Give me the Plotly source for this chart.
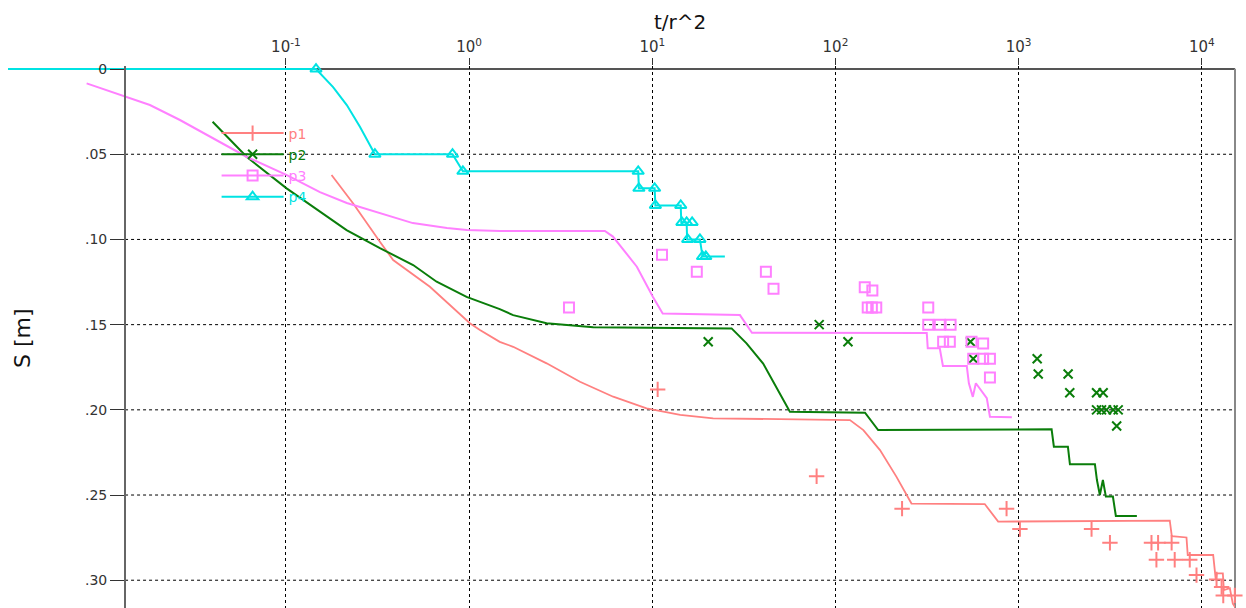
import plotly.graph_objects as go

# ---- data (t/r^2 vs drawdown s [m]) ----
# p1 model curve + observations
p1_t = [0.1775, 0.233, 0.326, 0.385, 0.611, 1.01, 1.146, 1.47, 1.74, 2.65, 4.03, 6.12, 9.31,
        14.2, 21.5, 120, 142, 175, 215, 260, 653, 773, 6683, 6855, 8245, 8375, 11530, 11920,
        12070, 13020, 13190, 14220, 14760, 16110]
p1_s = [0.0622, 0.0789, 0.1013, 0.1121, 0.1278, 0.1492, 0.1532, 0.1601, 0.1630, 0.1727, 0.1835,
        0.1923, 0.1991, 0.2030, 0.2050, 0.2060, 0.2119, 0.2236, 0.2392, 0.2550, 0.2553, 0.2656,
        0.2650, 0.2741, 0.2749, 0.2852, 0.2852, 0.2999, 0.2960, 0.2960, 0.3058, 0.3047, 0.3137,
        0.3200]
p1_obs_t = [10.7, 78.9, 231, 859, 1016, 2500, 3150, 5310, 5770, 6840, 5650, 7110, 8590, 9350,
            12030, 12820, 13090, 15140]
p1_obs_s = [0.188, 0.239, 0.258, 0.258, 0.270, 0.270, 0.278, 0.278, 0.278, 0.278, 0.288, 0.288,
            0.288, 0.297, 0.2995, 0.304, 0.309, 0.309]

# p2
p2_t = [0.0398, 0.061, 0.1009, 0.141, 0.2144, 0.326, 0.495, 0.665, 0.969, 1.47, 1.74, 2.65, 4.03,
        4.76, 27.1, 32.7, 40.3, 49.7, 56.4, 145, 171, 1513, 1557, 1857, 1905, 2608, 2675, 2775,
        2883, 2993, 3270, 3393, 4419]
p2_s = [0.0309, 0.0515, 0.0700, 0.0808, 0.0945, 0.1051, 0.1150, 0.1248, 0.1337, 0.1409, 0.1444,
        0.1492, 0.1508, 0.1516, 0.1522, 0.1610, 0.1728, 0.1904, 0.2011, 0.2017, 0.2119, 0.2114,
        0.2216, 0.2216, 0.2320, 0.2320, 0.2412, 0.2500, 0.2412, 0.2509, 0.2509, 0.2623, 0.2623]
p2_obs_t = [20.2, 81.5, 117, 546, 565, 1262, 1279, 1862, 1901, 2662, 2893, 2662, 2833, 3016,
            3281, 3494, 3428]
p2_obs_s = [0.160, 0.150, 0.160, 0.160, 0.170, 0.170, 0.179, 0.179, 0.190, 0.190, 0.190, 0.200,
            0.200, 0.200, 0.200, 0.200, 0.2095]

# p3
p3_t = [0.00817, 0.0132, 0.0181, 0.0264, 0.040, 0.0613, 0.1012, 0.1534, 0.215, 0.326, 0.493,
        0.757, 0.973, 1.47, 5.51, 6.10, 8.24, 10.07, 11.4, 30.1, 35.0, 315, 319, 371, 386, 521,
        535, 562, 584, 670, 697, 918]
p3_s = [0.0084, 0.0158, 0.0211, 0.0299, 0.0405, 0.0516, 0.0622, 0.0722, 0.0786, 0.0845, 0.0904,
        0.0933, 0.0945, 0.0950, 0.0950, 0.0983, 0.1160, 0.1336, 0.1434, 0.1444, 0.1548, 0.1549,
        0.1639, 0.1639, 0.1743, 0.1743, 0.1844, 0.1924, 0.1844, 0.1931, 0.2040, 0.2044]
p3_obs_t = [3.51, 11.3, 17.5, 41.7, 45.9, 144.5, 159, 150, 158, 167, 321, 321, 371, 425, 387, 421,
            553, 640, 565, 640, 697, 697]
p3_obs_s = [0.140, 0.109, 0.119, 0.119, 0.129, 0.128, 0.130, 0.140, 0.140, 0.140, 0.140, 0.150,
            0.150, 0.150, 0.160, 0.160, 0.160, 0.161, 0.170, 0.170, 0.170, 0.181]

# p4
p4_t = [0.00304, 0.146, 0.181, 0.215, 0.254, 0.306, 0.812, 0.925, 8.38, 8.45, 10.3, 10.4, 14.3,
        14.4, 15.4, 15.5, 18.2, 18.8, 24.9]
p4_s = [0, 0, 0.0106, 0.0211, 0.034, 0.05, 0.05, 0.06, 0.06, 0.07, 0.07, 0.08, 0.08, 0.09, 0.09,
        0.10, 0.10, 0.11, 0.11]
p4_obs_t = [0.146, 0.306, 0.812, 0.925, 8.38, 8.45, 10.3, 10.4, 14.3, 14.5, 15.4, 16.5, 15.6,
            18.2, 18.8, 19.6]
p4_obs_s = [0, 0.05, 0.05, 0.06, 0.06, 0.07, 0.07, 0.08, 0.08, 0.09, 0.09, 0.09, 0.10, 0.10,
            0.11, 0.11]

names = ["p1", "p2", "p3", "p4"]
x_ticks = [0.1, 1, 10, 100, 1000, 10000]
x_ticktext = ["10<sup>-1</sup>", "10<sup>0</sup>", "10<sup>1</sup>", "10<sup>2</sup>",
              "10<sup>3</sup>", "10<sup>4</sup>"]
y_ticks = [0, 0.05, 0.10, 0.15, 0.20, 0.25, 0.30]
y_ticktext = ["0", ".05", ".10", ".15", ".20", ".25", ".30"]

series = [
    (p1_t, p1_s, p1_obs_t, p1_obs_s, "#ff8080", "cross-thin", 11, 1.8),
    (p2_t, p2_s, p2_obs_t, p2_obs_s, "#0a7d0a", "x-thin", 9, 2),
    (p3_t, p3_s, p3_obs_t, p3_obs_s, "#ff80ff", "square-open", 10, 2),
    (p4_t, p4_s, p4_obs_t, p4_obs_s, "#00e3e3", "triangle-up-open", 10, 2),
]

FONT = "DejaVu Sans, Verdana, sans-serif"
AX_LEFT = 0.0954  # where the visible s-axis sits (curves may run left of it)

fig = go.Figure()
for name, (t, s, ot, os_, col, sym, msz, lw) in zip(names, series):
    fig.add_trace(go.Scatter(x=t, y=s, mode="lines", line=dict(color=col, width=lw),
                             showlegend=False, hoverinfo="skip"))
    fig.add_trace(go.Scatter(x=ot, y=os_, mode="markers", cliponaxis=False,
                             marker=dict(symbol=sym, size=msz, color=col,
                                         line=dict(color=col, width=2)),
                             showlegend=False))
    # legend entry
    fig.add_trace(go.Scatter(x=[None], y=[None], mode="lines+markers",
                             line=dict(color=col, width=2),
                             marker=dict(symbol=sym, size=msz, color=col,
                                         line=dict(color=col, width=2)),
                             name=f'<span style="color:{col}">{name}</span>'))

# horizontal dotted grid, only right of the s-axis
for yv in y_ticks[1:]:
    fig.add_shape(type="line", xref="paper", yref="y", x0=AX_LEFT, x1=1, y0=yv, y1=yv,
                  line=dict(color="black", width=1, dash="dot"), layer="below")
# top border and right border
fig.add_shape(type="line", xref="paper", yref="y", x0=AX_LEFT, x1=1, y0=0, y1=0,
              line=dict(color="#555555", width=2), layer="below")
fig.add_shape(type="line", xref="paper", yref="paper", x0=1, x1=1, y0=0, y1=0.995,
              line=dict(color="#888888", width=2), layer="below")

fig.update_layout(
    width=1246, height=608,
    paper_bgcolor="white", plot_bgcolor="white",
    margin=dict(l=8, r=11, t=66, b=0, autoexpand=False),
    font=dict(family=FONT, color="#222222"),
    showlegend=True,
    legend=dict(x=0.170, y=0.905, xanchor="left", yanchor="top", bgcolor="rgba(0,0,0,0)",
                font=dict(size=14, family=FONT), tracegroupgap=0, itemwidth=62),
    xaxis=dict(type="log", side="top", range=[-2.517, 4.181], tickvals=x_ticks,
               ticktext=x_ticktext, ticks="outside", ticklen=7, tickcolor="#333333",
               tickfont=dict(size=15, family=FONT, color="#333333"),
               showgrid=True, gridcolor="black", griddash="dot", gridwidth=1,
               showline=False, zeroline=False, anchor="y", automargin=False),
    yaxis=dict(range=[0.3163, -0.0018], tickvals=y_ticks, ticktext=y_ticktext,
               ticks="outside", ticklen=14, tickcolor="#333333",
               tickfont=dict(size=14, family=FONT, color="#333333"),
               showgrid=False, zeroline=False, showline=True, linecolor="#666666",
               linewidth=2, anchor="free", position=AX_LEFT, automargin=False),
    annotations=[
        dict(text="t/r^2", xref="paper", yref="paper", x=0.548, y=1.081,
             xanchor="center", yanchor="middle", showarrow=False,
             font=dict(size=20, family=FONT, color="#111111")),
        dict(text="S [m]", xref="paper", yref="paper", x=0.0114, y=0.498,
             xanchor="center", yanchor="middle", showarrow=False,
             textangle=-90, font=dict(size=22, family=FONT, color="#111111")),
    ],
)

fig.write_html("out.html", config={"displayModeBar": False},
               post_script="document.body.style.margin='0';")
